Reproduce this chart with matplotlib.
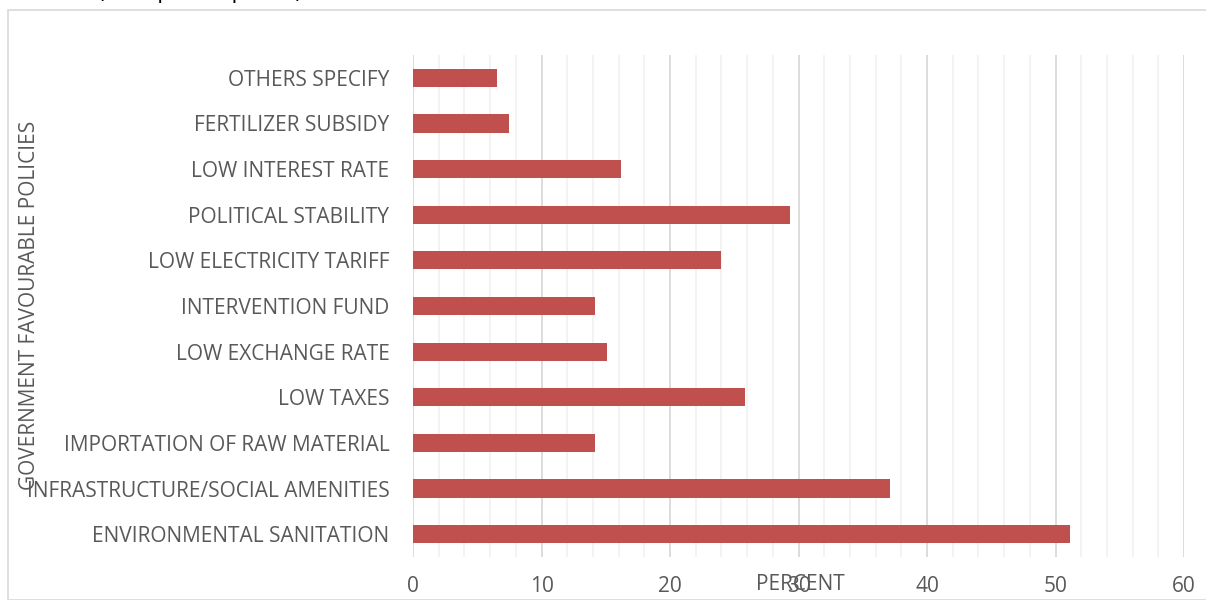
import matplotlib.pyplot as plt
from matplotlib.patches import Rectangle
import numpy as np

# policies, bottom to top as drawn
policies = ["ENVIRONMENTAL SANITATION", "INFRASTRUCTURE/SOCIAL AMENITIES",
            "IMPORTATION OF RAW MATERIAL", "LOW TAXES", "LOW EXCHANGE RATE",
            "INTERVENTION FUND", "LOW ELECTRICITY TARIFF", "POLITICAL STABILITY",
            "LOW INTEREST RATE", "FERTILIZER SUBSIDY", "OTHERS SPECIFY"]
percent = [51.1, 37.1, 14.2, 25.8, 15.1, 14.2, 24.0, 29.3, 16.2, 7.5, 6.5]
xticks = [0, 10, 20, 30, 40, 50, 60]

plt.rcParams['font.family'] = ['Open Sans', 'DejaVu Sans']
grey = "#595959"

fig = plt.figure(figsize=(12.06, 6.0), dpi=100)
ax = fig.add_axes([413/1206, 1-557/600, (1184-413)/1206, (557-55)/600])

y = np.arange(len(policies))
ax.barh(y, percent, height=0.4, color="#c0504d", zorder=3)
ax.set_ylim(-0.5, len(policies)-0.5)
ax.set_xlim(0, 60)

ax.set_xticks(xticks)
ax.set_xticks(np.arange(0, 61, 2), minor=True)
ax.set_yticks(y)
ax.set_yticklabels(policies)
ax.grid(axis="x", which="major", color="#d9d9d9", linewidth=1.3, zorder=0)
ax.grid(axis="x", which="minor", color="#f2f2f2", linewidth=1.3, zorder=0)
ax.tick_params(axis="both", which="both", length=0, labelsize=15, labelcolor=grey)
ax.tick_params(axis="x", pad=14)
ax.tick_params(axis="y", pad=17)
for s in ax.spines.values():
    s.set_visible(False)

fig.text(800/1206, 1-585/600, "PERCENT", ha="center", va="center", fontsize=15, color=grey)
fig.text(30/1206, 1-305/600, "GOVERNMENT FAVOURABLE POLICIES", rotation=90,
         ha="center", va="center", fontsize=15, color=grey)
# heading sits above the chart frame, only its descenders reach into view
fig.text(200/1206, 1+2/600, "(Multiple Response)", ha="center", va="baseline", fontsize=16, color="black")

fig.add_artist(Rectangle((8/1206, 0), 1.1, 1-10/600, transform=fig.transFigure,
                         fill=False, edgecolor="#d9d9d9", linewidth=1.2))

fig.savefig("out.png", dpi=100)
